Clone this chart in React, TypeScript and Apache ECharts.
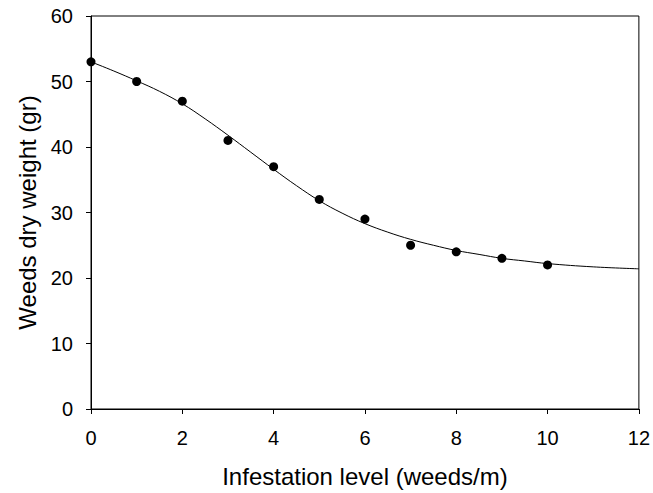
import React, { useEffect, useRef } from "react";
import * as echarts from "echarts";

// Observed dry weight per infestation level
const levels = [0, 1, 2, 3, 4, 5, 6, 7, 8, 9, 10];
const dryWeight = [53, 50, 47, 41, 37, 32, 29, 25, 24, 23, 22];

// Fitted response curve, sampled along the x range
const fitX = [0, 0.5, 1, 1.5, 2, 2.5, 3, 3.5, 4, 4.5, 5, 5.5, 6, 6.5, 7, 7.5, 8, 8.5, 9, 9.5, 10, 11, 12];
const fitY = [53.0, 51.6, 50.1, 48.5, 46.6, 44.3, 41.8, 39.2, 36.6, 34.1, 31.8, 29.9, 28.3, 27.0, 25.9, 25.0, 24.2, 23.6, 23.0, 22.6, 22.2, 21.7, 21.4];

const FONT = "Liberation Sans, Arial, sans-serif";

export default function App() {
  const ref = useRef<HTMLDivElement>(null);

  useEffect(() => {
    if (!ref.current) return;
    const chart = echarts.init(ref.current, null, { renderer: "svg" });
    chart.setOption({
      animation: false,
      backgroundColor: "#fff",
      grid: {
        left: 91,
        right: 14,
        top: 16,
        bottom: 84,
        show: true,
        borderColor: "#000",
        borderWidth: 1,
      },
      xAxis: {
        type: "value",
        min: 0,
        max: 12,
        interval: 2,
        name: "Infestation level (weeds/m)",
        nameLocation: "middle",
        nameGap: 55,
        nameTextStyle: { color: "#000", fontSize: 24, fontFamily: FONT },
        axisLine: { show: true, onZero: false, lineStyle: { color: "#000", width: 1 } },
        axisTick: { show: true, inside: false, length: 5, lineStyle: { color: "#000" } },
        axisLabel: { color: "#000", fontSize: 20, fontFamily: FONT, margin: 19 },
        splitLine: { show: false },
      },
      yAxis: {
        type: "value",
        min: 0,
        max: 60,
        interval: 10,
        name: "Weeds dry weight (gr)",
        nameLocation: "middle",
        nameGap: 52,
        nameTextStyle: { color: "#000", fontSize: 24, fontFamily: FONT },
        axisLine: { show: true, onZero: false, lineStyle: { color: "#000", width: 1 } },
        axisTick: { show: true, inside: false, length: 5, lineStyle: { color: "#000" } },
        axisLabel: { color: "#000", fontSize: 20, fontFamily: FONT, margin: 18 },
        splitLine: { show: false },
      },
      series: [
        {
          type: "line",
          data: fitX.map((x, i) => [x, fitY[i]]),
          smooth: 0.4,
          showSymbol: false,
          symbol: "none",
          lineStyle: { color: "#000", width: 1 },
          silent: true,
          z: 2,
        },
        {
          type: "scatter",
          data: levels.map((x, i) => [x, dryWeight[i]]),
          symbol: "circle",
          symbolSize: 9,
          itemStyle: { color: "#000", opacity: 1 },
          z: 3,
        },
      ],
    });
    return () => chart.dispose();
  }, []);

  return (
    <div
      ref={ref}
      style={{ position: "absolute", left: 0, top: 0, width: 653, height: 493 }}
    />
  );
}
